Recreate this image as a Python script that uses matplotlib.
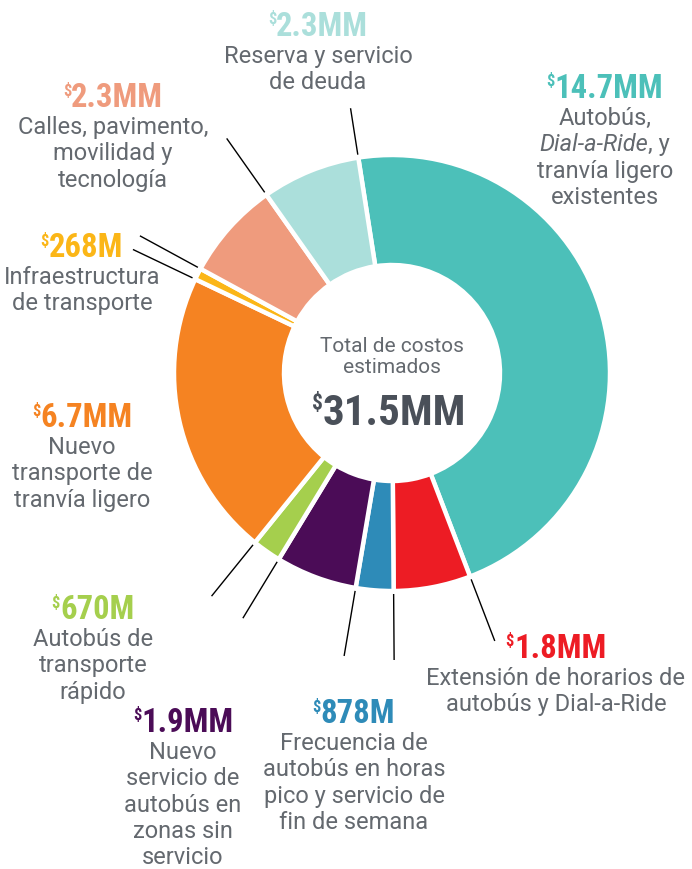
import numpy as np
import matplotlib.pyplot as plt
from matplotlib import font_manager

# Данные (по часовой стрелке, начиная сверху)
amounts = ['14.7MM', '1.8MM', '878M', '1.9MM', '670M', '6.7MM', '268M', '2.3MM', '2.3MM']
values = [14.7, 1.8, 0.878, 1.9, 0.67, 6.7, 0.268, 2.3, 2.3]
colors = ['#4cc0b9', '#ed1c24', '#2e8bb8', '#4b0c57', '#a5cf4d', '#f58322', '#fbb617', '#ef9b7d', '#abdfdb']
descriptions = [
    ['Autobús,', '*Dial-a-Ride*, y', 'tranvía ligero', 'existentes'],
    ['Extensión de horarios de', 'autobús y Dial-a-Ride'],
    ['Frecuencia de', 'autobús en horas', 'pico y servicio de', 'fin de semana'],
    ['Nuevo', 'servicio de', 'autobús en', 'zonas sin', 'servicio'],
    ['Autobús de', 'transporte', 'rápido'],
    ['Nuevo', 'transporte de', 'tranvía ligero'],
    ['Infraestructura', 'de transporte'],
    ['Calles, pavimento,', 'movilidad y', 'tecnología'],
    ['Reserva y servicio', 'de deuda'],
]
total_title = ['Total de costos', 'estimados']
total_amount = '31.5MM'

# Положение подписей (пиксели картинки: центр по x, базовая линия суммы по y)
label_x = [605, 556, 354, 183, 93, 82, 82, 113, 318]
label_y = [98, 658, 723, 732, 619, 427, 257, 107, 36]

W, H = 692, 869
cx, cy = 392, 373
R, hole = 218, 108

names = {f.name for f in font_manager.fontManager.ttflist}
cond_font = next((n for n in ['Liberation Sans Narrow', 'DejaVu Sans Condensed', 'Roboto Condensed']
                  if n in names), 'Roboto')
body_font = 'Roboto' if 'Roboto' in names else 'DejaVu Sans'
gray = '#64696f'

fig = plt.figure(figsize=(W / 100, H / 100), dpi=100)
ax = fig.add_axes([0, 0, 1, 1])
wedges, _ = ax.pie(values, colors=colors, startangle=98.9, counterclock=False,
                   radius=R, center=(cx, H - cy),
                   wedgeprops=dict(width=R - hole, edgecolor='white', linewidth=3.2))
ax.set_xlim(0, W)
ax.set_ylim(0, H)
ax.set_aspect('equal')
ax.axis('off')

# Выноски на границах секторов
bounds = sorted({round(w.theta1 % 360, 3) for w in wedges})
for a in bounds:
    t = np.deg2rad(a)
    r2 = 287
    if abs(((a - 98.9 + 180) % 360) - 180) < 0.5:
        r2 = 268  # верхняя линия короче, чтобы не задеть текст
    ax.plot([cx + 221 * np.cos(t), cx + r2 * np.cos(t)],
            [H - cy + 221 * np.sin(t), H - cy + r2 * np.sin(t)],
            color='black', lw=1.0, solid_capstyle='butt')

renderer = fig.canvas.get_renderer()


def text_width(txt):
    return txt.get_window_extent(renderer).width


def money(x, y, s, color, size):
    # сумма с маленьким знаком доллара
    num = ax.text(0, H - y, s, fontsize=size, family=cond_font, weight='bold',
                  color=color, ha='left', va='baseline')
    dol = ax.text(0, 0, '\\$', fontsize=size * 0.5, family=cond_font, weight='bold',
                  color=color, ha='left', va='top')
    wn, wd = text_width(num), text_width(dol)
    left = x - (wn + wd) / 2
    num.set_x(left + wd)
    cap = size / 72 * 100 * 0.72
    dol.set_position((left, H - y + cap + 1))


def body_line(x, y, s, size=17):
    parts = s.split('*')
    if len(parts) == 1:
        ax.text(x, H - y, s, fontsize=size, family=body_font,
                color=gray, ha='center', va='baseline')
        return
    texts = []
    for i, p in enumerate(parts):
        if not p:
            continue
        texts.append(ax.text(0, H - y, p, fontsize=size, family=body_font,
                             style='italic' if i % 2 else 'normal',
                             color=gray, ha='left', va='baseline'))
    total = sum(text_width(t) for t in texts)
    pos = x - total / 2
    for t in texts:
        t.set_x(pos)
        pos += text_width(t)


for i in range(len(values)):
    money(label_x[i], label_y[i], amounts[i], colors[i], 23.5)
    for j, line in enumerate(descriptions[i]):
        body_line(label_x[i], label_y[i] + 27 + 26.3 * j, line)

# Центр
body_line(cx, 352, total_title[0], 15)
body_line(cx, 373, total_title[1], 15)
money(cx - 3, 425, total_amount, '#4a5059', 31)

fig.savefig('out.png', dpi=100, facecolor='white')
